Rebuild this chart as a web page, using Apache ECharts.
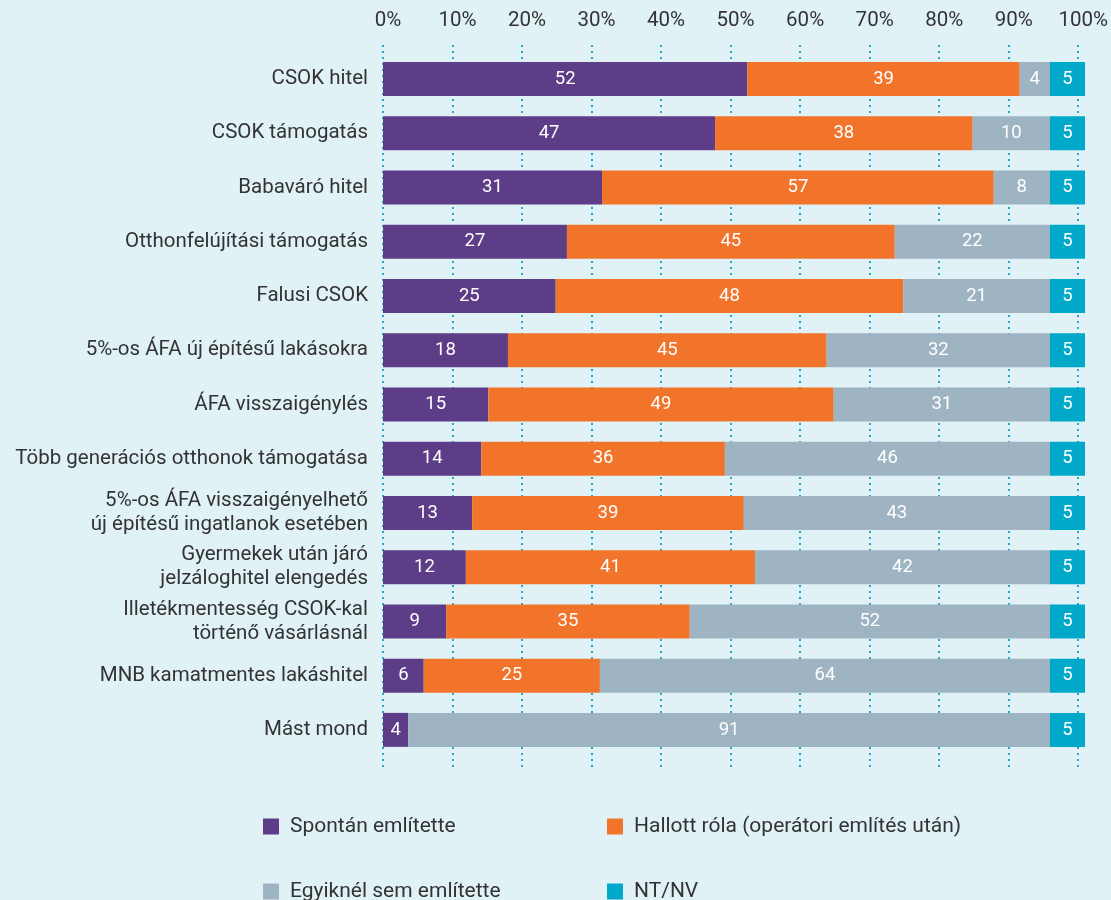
<!DOCTYPE html>
<html>
<head>
<meta charset="utf-8">
<script src="https://cdn.jsdelivr.net/npm/echarts@6/dist/echarts.min.js"></script>
<style>
  html, body { margin: 0; padding: 0; background: #e1f2f7; }
  #chart { width: 1111px; height: 900px; }
</style>
</head>
<body>
<div id="chart"></div>
<script>
// categories, top to bottom
const categories = [
  'CSOK hitel',
  'CSOK támogatás',
  'Babaváró hitel',
  'Otthonfelújítási támogatás',
  'Falusi CSOK',
  '5%-os ÁFA új építésű lakásokra',
  'ÁFA visszaigénylés',
  'Több generációs otthonok támogatása',
  '5%-os ÁFA visszaigényelhető\núj építésű ingatlanok esetében',
  'Gyermekek után járó\njelzáloghitel elengedés',
  'Illetékmentesség CSOK-kal\ntörténő vásárlásnál',
  'MNB kamatmentes lakáshitel',
  'Mást mond'
]

const seriesNames = ['Spontán említette', 'Hallott róla (operátori említés után)', 'Egyiknél sem említette', 'NT/NV']

// segment widths (%)
const spontan = [51.9, 47.3, 31.2, 26.2, 24.6, 17.8, 15.0, 14.0, 12.7, 11.8, 9.0, 5.8, 3.6]
const hallott = [38.8, 36.7, 55.8, 46.7, 49.5, 45.4, 49.2, 34.7, 38.7, 41.2, 34.7, 25.1, 0]
const egyik = [4.3, 11.0, 8.0, 22.1, 20.9, 31.8, 30.8, 46.3, 43.6, 42.0, 51.3, 64.1, 91.4]
const ntnv = [5, 5, 5, 5, 5, 5, 5, 5, 5, 5, 5, 5, 5]

// numbers printed on the bars
const spontanLabels = [52, 47, 31, 27, 25, 18, 15, 14, 13, 12, 9, 6, 4]
const hallottLabels = [39, 38, 57, 45, 48, 45, 49, 36, 39, 41, 35, 25, '']
const egyikLabels = [4, 10, 8, 22, 21, 32, 31, 46, 43, 42, 52, 64, 91]
const ntnvLabels = [5, 5, 5, 5, 5, 5, 5, 5, 5, 5, 5, 5, 5]

const xTicks = [0, 10, 20, 30, 40, 50, 60, 70, 80, 90, 100]

const colors = ['#5d3d87', '#f2742b', '#9eb4c3', '#00a9c9']
const fontFamily = 'Roboto, "Noto Sans", sans-serif'

const chart = echarts.init(document.getElementById('chart'))

const makeSeries = (name, data, labels, color) => ({
  name: name,
  type: 'bar',
  stack: 'total',
  xAxisIndex: 1,
  yAxisIndex: 1,
  barWidth: 34,
  data: data,
  itemStyle: { color: color },
  label: {
    show: true,
    position: 'inside',
    color: '#fff',
    fontSize: 18.5,
    fontFamily: fontFamily,
    formatter: (p) => String(labels[p.dataIndex])
  },
  emphasis: { disabled: true }
})

const legendItem = (name, left, top) => ({
  data: [name],
  left: left,
  top: top,
  padding: 0,
  icon: 'rect',
  itemWidth: 16,
  itemHeight: 16,
  selectedMode: false,
  textStyle: {
    color: '#333',
    fontSize: 21,
    fontFamily: fontFamily,
    padding: [0, 0, 0, 6]
  }
})

chart.setOption({
  backgroundColor: '#e1f2f7',
  animation: false,
  legend: [
    legendItem(seriesNames[0], 263, 816),
    legendItem(seriesNames[1], 607, 816),
    legendItem(seriesNames[2], 263, 881),
    legendItem(seriesNames[3], 607, 881)
  ],
  grid: [
    // grid for the dotted lines and the top percent labels
    { left: 383, right: 26, top: 45, bottom: 133 },
    // grid for the bars
    { left: 383, right: 26, top: 52, bottom: 143 }
  ],
  xAxis: [{
    gridIndex: 0,
    type: 'value',
    position: 'top',
    min: xTicks[0],
    max: xTicks[xTicks.length - 1],
    interval: 10,
    axisLine: { show: false },
    axisTick: { show: false },
    axisLabel: {
      margin: 14,
      color: '#333',
      fontSize: 20.5,
      fontFamily: fontFamily,
      padding: [0, 0, 0, 10],
      formatter: '{value}%'
    },
    splitLine: {
      show: true,
      lineStyle: { color: '#22a9d2', width: 2, type: [2, 4] }
    }
  }, {
    gridIndex: 1,
    type: 'value',
    min: 0,
    max: 100,
    show: false
  }],
  yAxis: [{
    gridIndex: 0,
    type: 'category',
    data: categories,
    show: false
  }, {
    gridIndex: 1,
    type: 'category',
    inverse: true,
    data: categories,
    axisLine: { show: false },
    axisTick: { show: false },
    splitLine: { show: false },
    axisLabel: {
      margin: 15,
      color: '#333',
      fontSize: 20.5,
      lineHeight: 24,
      fontFamily: fontFamily
    }
  }],
  series: [
    makeSeries(seriesNames[0], spontan, spontanLabels, colors[0]),
    makeSeries(seriesNames[1], hallott, hallottLabels, colors[1]),
    makeSeries(seriesNames[2], egyik, egyikLabels, colors[2]),
    makeSeries(seriesNames[3], ntnv, ntnvLabels, colors[3])
  ]
})
</script>
</body>
</html>
